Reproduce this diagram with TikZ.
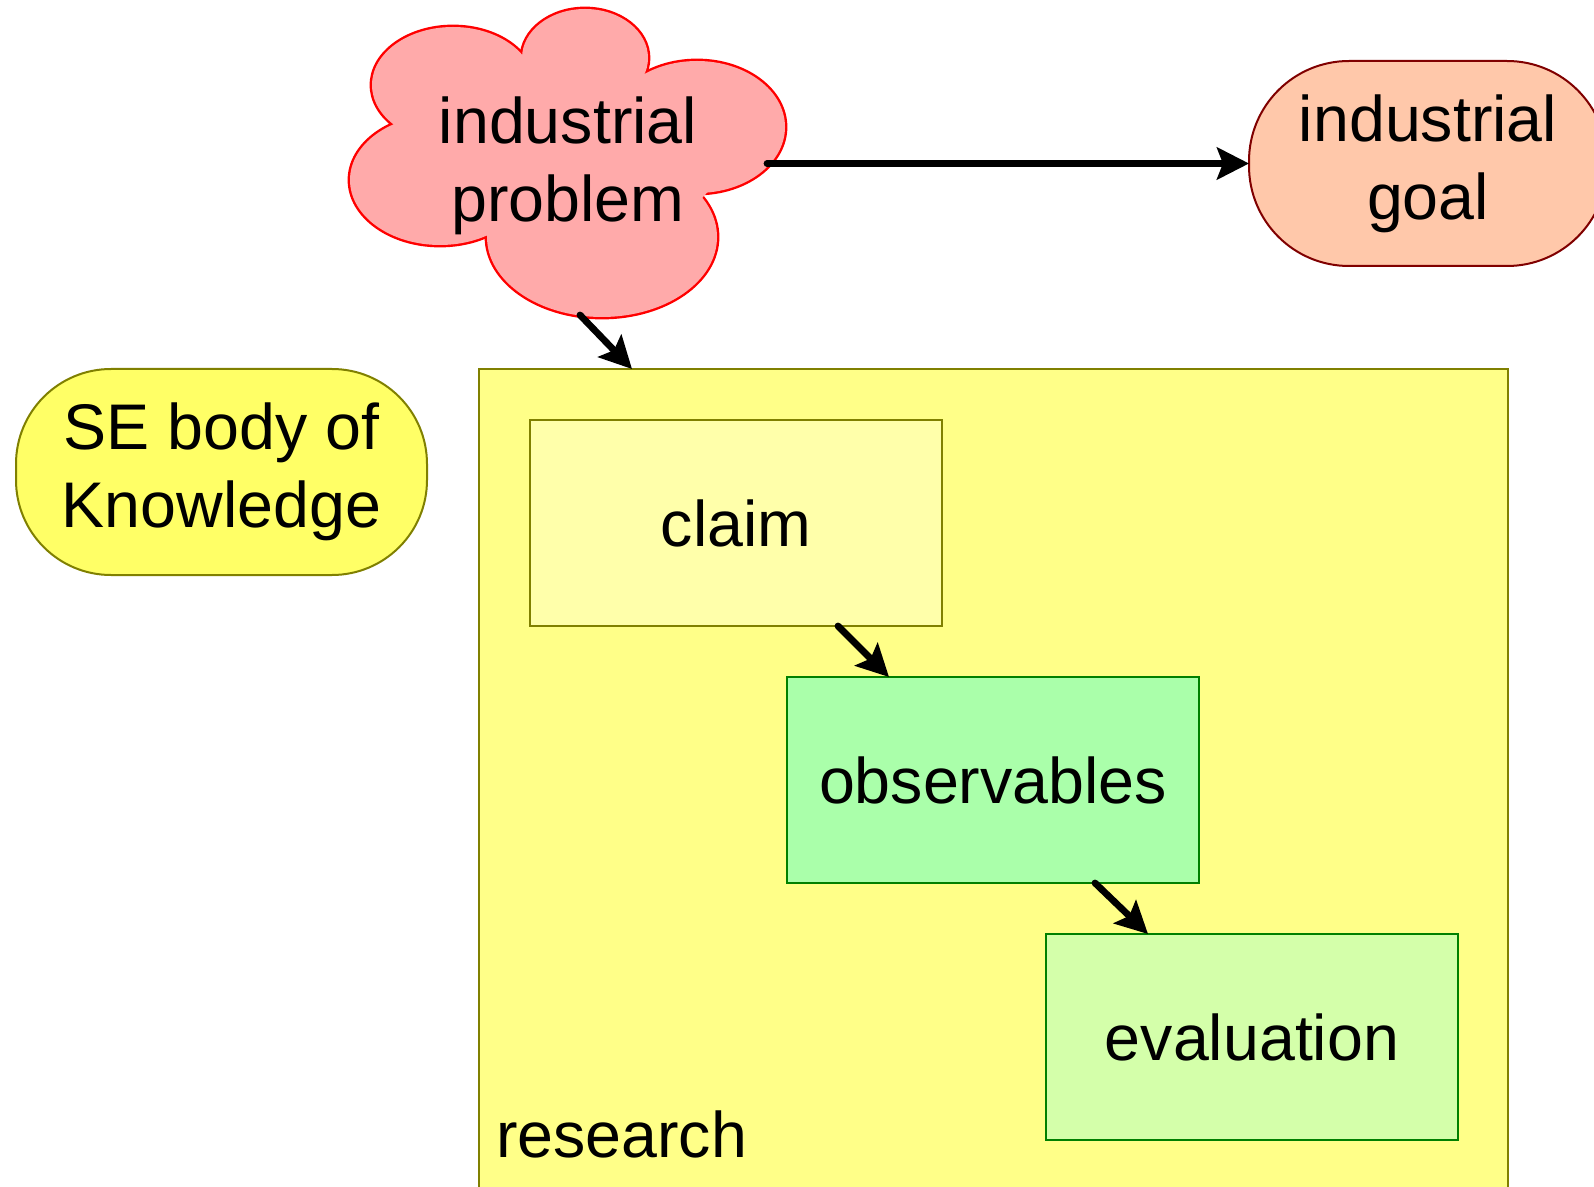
\documentclass[tikz,border=0pt]{standalone}
\usepackage{fontspec}
\setmainfont{Liberation Sans}
\usetikzlibrary{arrows.meta}
\definecolor{cloudfill}{HTML}{FFAAAA}
\definecolor{cloudline}{HTML}{FF0000}
\definecolor{goalfill}{HTML}{FFC8AA}
\definecolor{goalline}{HTML}{800000}
\definecolor{sefill}{HTML}{FFFF66}
\definecolor{oliveline}{HTML}{808000}
\definecolor{resfill}{HTML}{FFFF88}
\definecolor{claimfill}{HTML}{FFFFAA}
\definecolor{obsfill}{HTML}{AAFFAA}
\definecolor{evalfill}{HTML}{D4FFAA}
\definecolor{greenline}{HTML}{008000}
\begin{document}
\begin{tikzpicture}[x=0.5pt,y=-0.5pt,
  txt/.style={font=\fontsize{32.25}{39}\selectfont, align=center, inner sep=0pt, outer sep=0pt},
  box/.style={txt, draw, line width=1pt, minimum width=206pt, minimum height=103pt},
  arr/.style={line width=3.4pt, line cap=round, -{Stealth[length=16pt,width=16pt,inset=3pt]}},
  lobe/.style={draw=cloudline, line width=2.4pt}]
\useasboundingbox (0,0) rectangle (1594,1187);
\clip (0,0) rectangle (1594,1187);

% research frame
\node[draw=oliveline, fill=resfill, line width=1pt, inner sep=0pt, outer sep=0pt,
      minimum width=514.5pt, minimum height=420pt, anchor=north west] (research) at (479,369) {};
\node[txt, anchor=base west] (reslabel) at (496,1157) {research};

% inner boxes
\node[box, draw=oliveline, fill=claimfill] (claim) at (736,523) {claim};
\node[box, draw=greenline, fill=obsfill] (obs) at (993,780) {observables};
\node[box, draw=greenline, fill=evalfill] (eval) at (1252,1037) {evaluation};

% SE body of knowledge
\node[txt, draw=oliveline, fill=sefill, line width=1pt, rounded corners=47.5pt,
      minimum width=205.5pt, minimum height=103pt] (se) at (221.5,472) {SE body of\\Knowledge};

% industrial goal
\node[txt, draw=goalline, fill=goalfill, line width=1pt, rounded corners=50pt,
      minimum width=179pt, minimum height=102.5pt] (goal) at (1428,163.5) {industrial\\goal};

% cloud
\foreach \cx/\cy/\rx/\ry in {585/58/63/49, 697/127/88/66, 602/237/115/80, 440/180/90/65, 453/85/81/58}
  \draw[lobe] (\cx,\cy) ellipse [x radius=\rx, y radius=\ry];
\foreach \cx/\cy/\rx/\ry in {585/58/63/49, 697/127/88/66, 602/237/115/80, 440/180/90/65, 453/85/81/58, 570/160/150/80}
  \fill[cloudfill] (\cx,\cy) ellipse [x radius=\rx, y radius=\ry];
\node[txt] (prob) at (568,166) {industrial\\problem};
\coordinate (cloudR) at (767,163.5);
\coordinate (cloudB) at (580,315);

% connectors
\draw[arr] (cloudR) -- (goal.west);
\draw[arr] (cloudB) -- ([xshift=76.5pt]research.north west);
\draw[arr] ([xshift=154pt]claim.south west) -- ([xshift=51pt]obs.north west);
\draw[arr] ([xshift=154pt]obs.south west) -- ([xshift=51pt]eval.north west);
\end{tikzpicture}
\end{document}
